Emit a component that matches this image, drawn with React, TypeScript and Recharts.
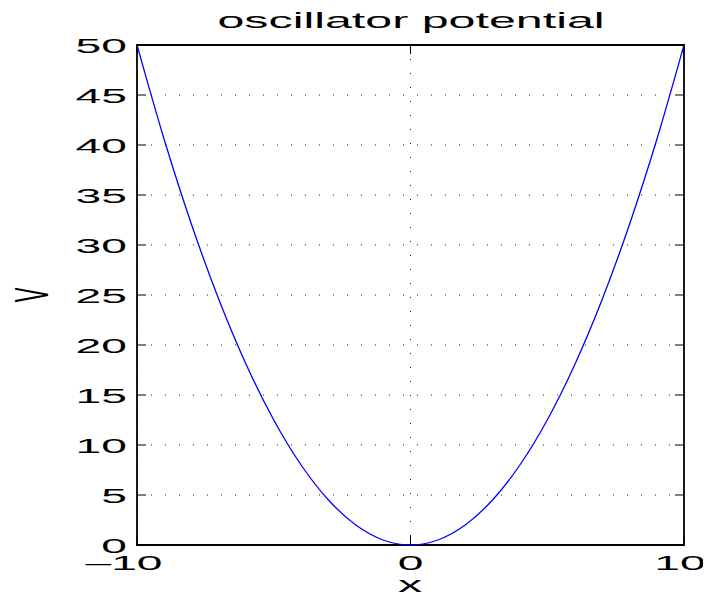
import { LineChart, Line, XAxis, YAxis, CartesianGrid, ReferenceArea } from 'recharts';

const xValues = [-10, -9, -8, -7, -6, -5, -4, -3, -2, -1, 0, 1, 2, 3, 4, 5, 6, 7, 8, 9, 10];
const vValues = [50, 40.5, 32, 24.5, 18, 12.5, 8, 4.5, 2, 0.5, 0, 0.5, 2, 4.5, 8, 12.5, 18, 24.5, 32, 40.5, 50];
const xTicks = [-10, 0, 10];
const yTicks = [0, 5, 10, 15, 20, 25, 30, 35, 40, 45, 50];

const data = xValues.map((x, i) => ({ x, v: vValues[i] }));

const W = 711;
const H = 595;
const margin = { top: 45, right: 27, left: 37, bottom: 10 };
const yAxisWidth = 100;
const xAxisHeight = 40;
const plotLeft = margin.left + yAxisWidth;
const plotRight = W - margin.right;
const plotTop = margin.top;
const plotBottom = H - margin.bottom - xAxisHeight;

const font = '"Liberation Sans", Helvetica, Arial, sans-serif';
const SX = 2.2;
const TICK_LEN = 9;

function Stretch({ x, y, anchor, size, sx, children }: any) {
  return (
    <text
      transform={`translate(${x},${y}) scale(${sx},1)`}
      textAnchor={anchor}
      fontSize={size}
      fontFamily={font}
      fill="#000"
    >
      {children}
    </text>
  );
}

function YTick({ payload }: any) {
  const y = payload.coordinate;
  return (
    <g>
      <line x1={plotLeft} x2={plotLeft + TICK_LEN} y1={y} y2={y} stroke="#000" strokeWidth={1} />
      <line x1={plotRight - TICK_LEN} x2={plotRight} y1={y} y2={y} stroke="#000" strokeWidth={1} />
      <Stretch x={127} y={y + 8} anchor="end" size={21} sx={SX}>
        {payload.value}
      </Stretch>
    </g>
  );
}

function XTick({ payload }: any) {
  const x = payload.coordinate;
  const v = payload.value;
  const label = v < 0 ? `\u2013${Math.abs(v)}` : String(v);
  // matlab's labels sit a little left of the tick when they carry more digits
  const cx = v < 0 ? x - 13 : v > 0 ? x - 4 : x;
  return (
    <g>
      <line x1={x} x2={x} y1={plotBottom} y2={plotBottom - TICK_LEN} stroke="#000" strokeWidth={1} />
      <line x1={x} x2={x} y1={plotTop} y2={plotTop + TICK_LEN} stroke="#000" strokeWidth={1} />
      <Stretch x={cx} y={570} anchor="middle" size={21} sx={SX}>
        {label}
      </Stretch>
    </g>
  );
}

export default function App() {
  return (
    <div style={{ position: 'relative', width: W, height: H, margin: '-8px 0 0 -8px', background: '#fff' }}>
      <LineChart width={W} height={H} data={data} margin={margin}>
        <CartesianGrid stroke="#222" strokeDasharray="1 13" />
        <XAxis
          type="number"
          dataKey="x"
          domain={[-10, 10]}
          ticks={xTicks}
          height={xAxisHeight}
          axisLine={false}
          tickLine={false}
          tick={<XTick />}
          interval={0}
        />
        <YAxis
          type="number"
          domain={[0, 50]}
          ticks={yTicks}
          width={yAxisWidth}
          axisLine={false}
          tickLine={false}
          tick={<YTick />}
          interval={0}
        />
        <Line
          type="monotone"
          dataKey="v"
          stroke="#0000ff"
          strokeWidth={1.3}
          dot={false}
          isAnimationActive={false}
        />
        <ReferenceArea x1={-10} x2={10} y1={0} y2={50} fill="none" fillOpacity={0} stroke="#000" strokeWidth={1.8} />
      </LineChart>
      <svg width={W} height={H} style={{ position: 'absolute', left: 0, top: 0, pointerEvents: 'none' }}>
        <Stretch x={411} y={28} anchor="middle" size={22.5} sx={2.15}>
          oscillator potential
        </Stretch>
        <text
          transform="translate(48,295) scale(2.2,1) rotate(-90)"
          textAnchor="middle"
          fontSize={22}
          fontFamily={font}
          fill="#000"
        >
          V
        </text>
        <Stretch x={410} y={592} anchor="middle" size={22} sx={2.2}>
          x
        </Stretch>
      </svg>
    </div>
  );
}
